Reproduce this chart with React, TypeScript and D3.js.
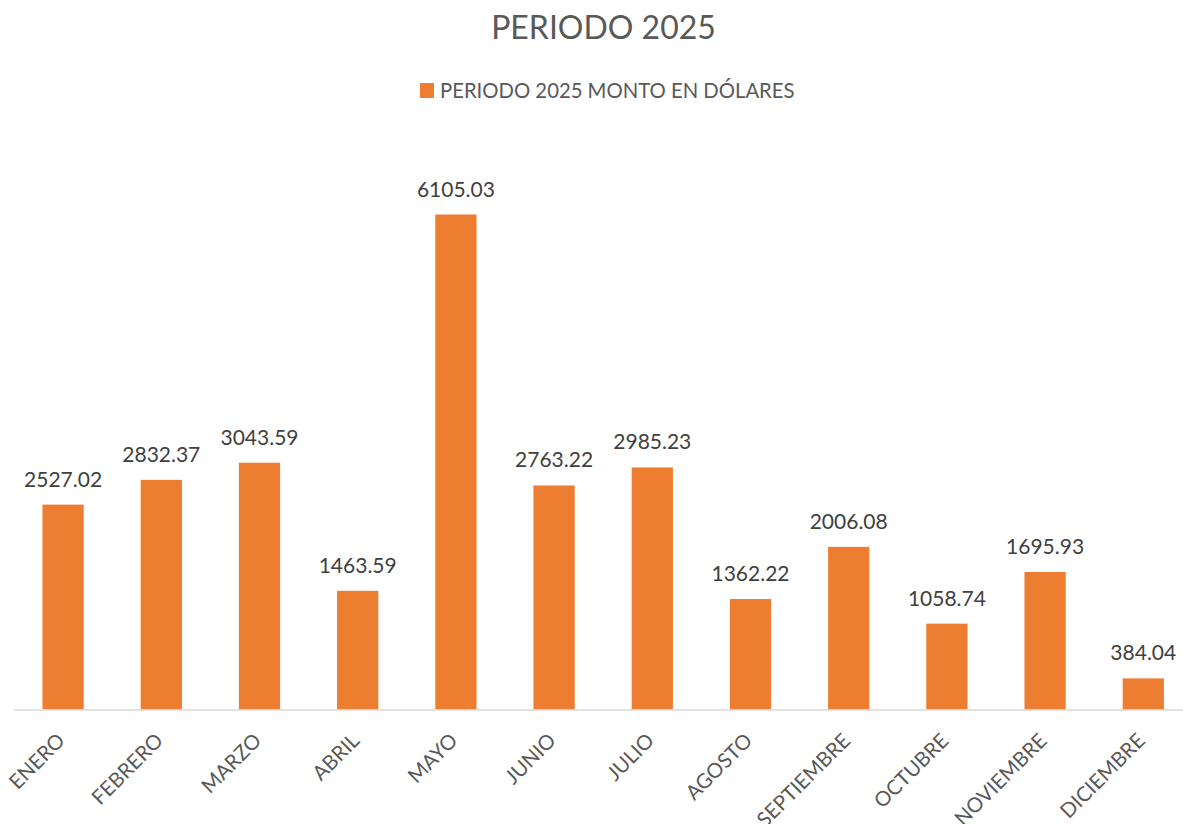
import React from "react";
import * as d3 from "d3";

const months = ["ENERO","FEBRERO","MARZO","ABRIL","MAYO","JUNIO","JULIO","AGOSTO","SEPTIEMBRE","OCTUBRE","NOVIEMBRE","DICIEMBRE"];
const values = [2527.02,2832.37,3043.59,1463.59,6105.03,2763.22,2985.23,1362.22,2006.08,1058.74,1695.93,384.04];
const title = "PERIODO 2025";
const seriesName = "PERIODO 2025 MONTO EN DÓLARES";

const W = 1183, H = 824;
const FONT = "Lato, 'Open Sans', sans-serif";
const TEXT = "#595959";
const BAR = "#ED7D31";

export default function App() {
  const x = d3.scaleBand<string>().domain(months).range([14, 14 + 12 * 98.2]).paddingInner(0.58).paddingOuter(0.29);
  const baseY = 709.5;
  const y = d3.scaleLinear().domain([0, 7000]).range([baseY, baseY - 7000 * 0.08108]);
  return (
    <svg width={W} height={H} style={{ position: "fixed", left: 0, top: 0, background: "#fff" }} fontFamily={FONT}>
      <rect width={W} height={H} fill="#fff" />
      <text x={W / 2 + 12} y={39} textAnchor="middle" fontSize={32} fill={TEXT}>{title}</text>
      <rect x={420} y={83} width={14} height={15} fill={BAR} />
      <text x={440} y={98} fontSize={20.3} fill={TEXT}>{seriesName}</text>
      {months.map((m, i) => {
        const bx = x(m)!;
        const bw = x.bandwidth();
        const top = y(values[i]);
        return (
          <g key={m}>
            <rect x={bx} y={top} width={bw} height={baseY - top} fill={BAR} />
            <text x={bx + bw / 2} y={top - 18} textAnchor="middle" fontSize={21} fill="#404040">{values[i].toFixed(2)}</text>
          </g>
        );
      })}
      <line x1={14} x2={W} y1={baseY + 0.5} y2={baseY + 0.5} stroke="#D9D9D9" strokeWidth={1.5} />
      {months.map((m) => {
        const cx = x(m)! + x.bandwidth() / 2;
        return (
          <text key={"l" + m} transform={`translate(${cx + 3},${742}) rotate(-45)`} textAnchor="end" fontSize={20.5} fill={TEXT}>{m}</text>
        );
      })}
    </svg>
  );
}
